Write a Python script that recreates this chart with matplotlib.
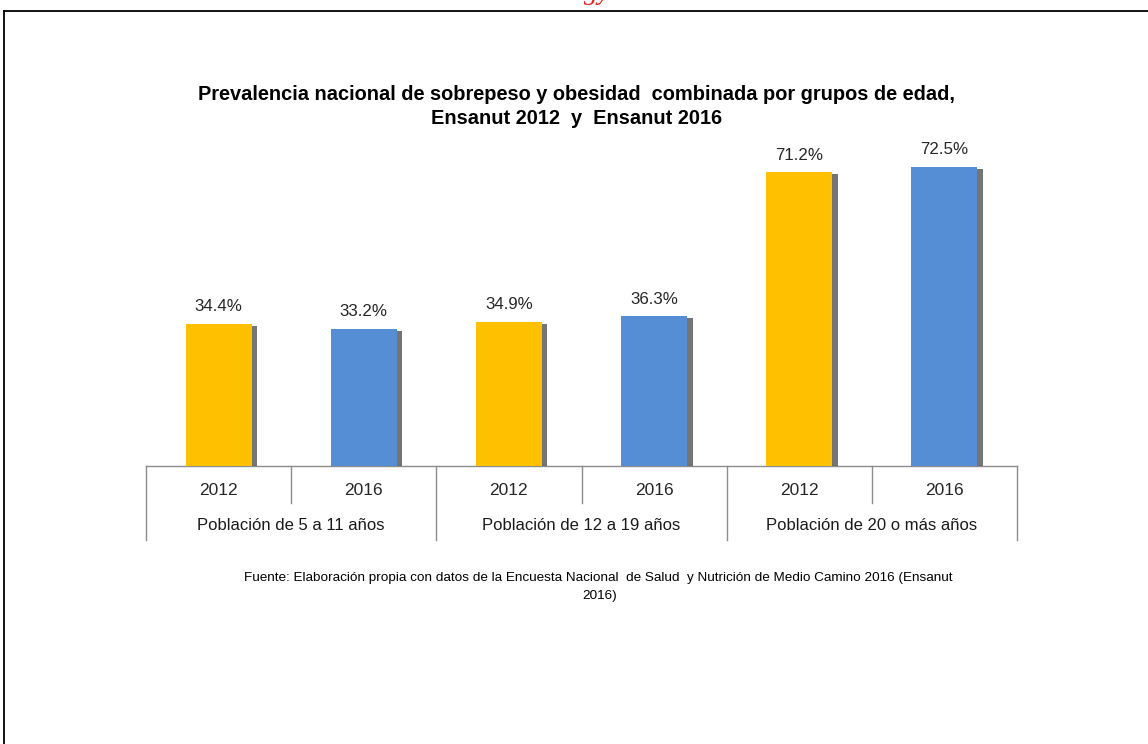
import matplotlib
matplotlib.use('Agg')
from matplotlib import pyplot as plt
from matplotlib import patheffects
from matplotlib.lines import Line2D
import numpy as np

years = ['2012', '2016', '2012', '2016', '2012', '2016']
groups = ['Población de 5 a 11 años', 'Población de 12 a 19 años', 'Población de 20 o más años']
values = [34.4, 33.2, 34.9, 36.3, 71.2, 72.5]
colors = ['#FFC000', '#558ED5', '#FFC000', '#558ED5', '#FFC000', '#558ED5']

narrow = ['Liberation Sans Narrow', 'Liberation Sans', 'DejaVu Sans']
plain = ['Liberation Sans', 'DejaVu Sans']

W, H = 1148, 744
fig = plt.figure(figsize=(W / 100, H / 100), dpi=100)
fig.patch.set_facecolor('white')

# page frame (top and left border)
fig.add_artist(Line2D([4 / W, 1], [1 - 10.5 / H] * 2, color='black', lw=1.3))
fig.add_artist(Line2D([4 / W] * 2, [0, 1 - 10.5 / H], color='black', lw=1.3))
# red heading of the page, only its lower edge is on the sheet
fig.text(565 / W, 1 + 1 / H, 'Ecology', color='#E0201B', fontsize=20, family='Liberation Serif',
         style='italic', ha='center', va='baseline')

ax = fig.add_axes([146 / W, 1 - 466 / H, (1017 - 146) / W, 330 / H])
x = np.arange(len(values))
bars = ax.bar(x, values, width=0.455, color=colors, zorder=3)
for b in bars:
    b.set_path_effects([patheffects.SimplePatchShadow(offset=(4, -1.5), shadow_rgbFace='#2b2b2b', alpha=0.65),
                        patheffects.Normal()])

for xi, v in zip(x, values):
    ax.annotate('{:.1f}%'.format(v), (xi, v), xytext=(0, 7), textcoords='offset points',
                ha='center', va='bottom', fontsize=12.2, family=plain, color='#262626')

ax.set_xlim(-0.5, len(values) - 0.5)
ax.set_ylim(0, 80)
ax.set_xticks([])
ax.set_yticks([])
for side in ['top', 'left', 'right']:
    ax.spines[side].set_visible(False)
ax.spines['bottom'].set_color('#8c8c8c')
ax.spines['bottom'].set_linewidth(1.0)

# category table below the axis
tr = ax.get_xaxis_transform()
for i in range(len(values) + 1):
    xs = i - 0.5
    depth = -0.224 if i % 2 == 0 else -0.112
    ax.plot([xs, xs], [0, depth], transform=tr, color='#8c8c8c', lw=1.0, clip_on=False)
for xi, yr in zip(x, years):
    ax.text(xi, -0.073, yr, transform=tr, ha='center', va='center', fontsize=12.5, family=plain, color='#262626')
for g, name in enumerate(groups):
    ax.text(2 * g + 0.5, -0.179, name, transform=tr, ha='center', va='center', fontsize=12,
            family=narrow, color='#1a1a1a')

fig.text(577 / W, 1 - 95 / H, 'Prevalencia nacional de sobrepeso y obesidad  combinada por grupos de edad,',
         ha='center', va='center', fontsize=14.4, fontweight='bold', family=narrow, color='black')
fig.text(577 / W, 1 - 118 / H, 'Ensanut 2012  y  Ensanut 2016',
         ha='center', va='center', fontsize=14.4, fontweight='bold', family=narrow, color='black')

fig.text(598 / W, 1 - 578 / H,
         'Fuente: Elaboración propia con datos de la Encuesta Nacional  de Salud  y Nutrición de Medio Camino 2016 (Ensanut',
         ha='center', va='center', fontsize=9.7, family=narrow, color='black')
fig.text(600 / W, 1 - 596 / H, '2016)', ha='center', va='center', fontsize=9.7, family=narrow, color='black')

plt.savefig('out.png', dpi=100)
